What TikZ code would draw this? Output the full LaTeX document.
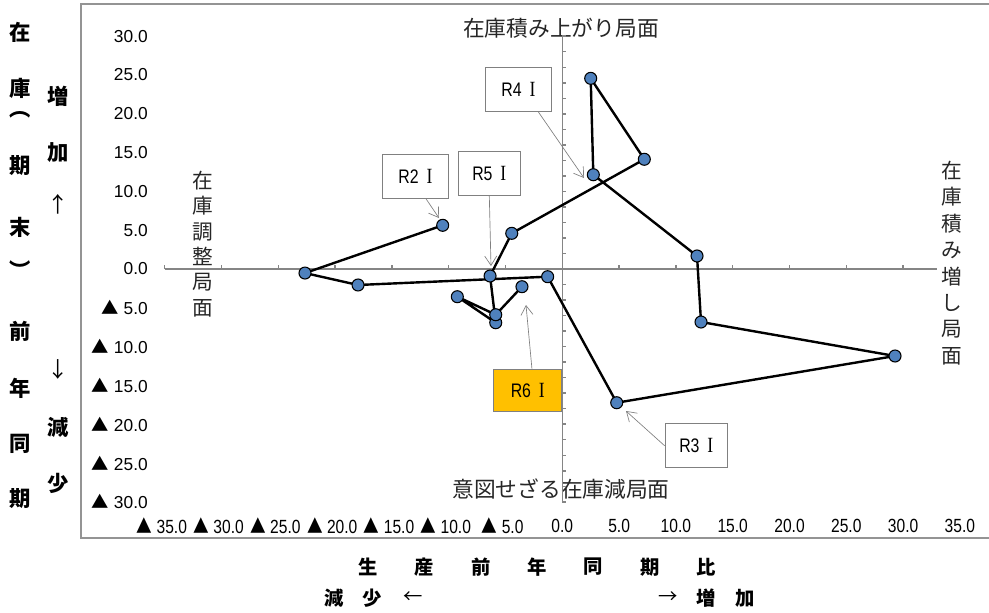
\documentclass[tikz,border=0pt]{standalone}
\usepackage{fontspec}
\setmainfont{Liberation Sans}
\newfontfamily\jp{Noto Sans CJK JP}
\newfontfamily\serifI{Liberation Serif}
\usetikzlibrary{arrows.meta,calc}
\definecolor{markblue}{HTML}{4F81BD}
\definecolor{boxorange}{HTML}{FFC000}
\newcommand{\tri}{{\jp ▲}}
\newcommand{\rn}{\hspace*{7pt}{\serifI\fontsize{15.5}{16}\selectfont I}}
\begin{document}
\begin{tikzpicture}[x=0.75pt,y=-0.75pt,
  frame/.style={draw=black!42, line width=1.2pt},
  axisl/.style={draw=black!48, line width=1.1pt},
  datal/.style={draw=black, line width=1.8pt, line join=round},
  dot/.style={circle, draw=black, line width=0.8pt, fill=markblue, inner sep=0pt, minimum size=9pt},
  callbox/.style={draw=black!50, line width=0.6pt, fill=white, minimum width=49pt, minimum height=33pt, inner sep=0pt, font=\fontsize{14}{16}\selectfont},
  leader/.style={draw=black!50, line width=0.5pt, -{Straight Barb[length=7pt,width=9pt]}},
  phase/.style={font=\jp\fontsize{16.3}{19.8}\selectfont, text=black!85, inner sep=0pt, align=center},
  title/.style={font=\jp\bfseries\fontsize{16}{18}\selectfont, inner sep=0pt},
  btitle/.style={font=\jp\bfseries\fontsize{14.5}{16}\selectfont, inner sep=0pt},
  ylab/.style={font=\fontsize{13}{15}\selectfont, anchor=east, inner sep=0pt},
  xlab/.style={font=\fontsize{13}{15}\selectfont, inner sep=0pt},
]
\useasboundingbox (0,0) rectangle (989,612);
\fill[white] (0,0) rectangle (989,612);
% plot frame
\draw[frame] (989,4) -- (81,4) -- (81,538) -- (989,538);

% phase labels
\node[phase] (ptop) at (561,28) {在庫積み上がり局面};
\node[phase] (pbot) at (561,489) {意図せざる在庫減局面};
\node[phase, font=\jp\fontsize{15.5}{19}\selectfont] (pleft) at (203,244) {在\\庫\\調\\整\\局\\面};
\node[phase, font=\jp\fontsize{15.5}{19.8}\selectfont] (pright) at (952,263) {在\\庫\\積\\み\\増\\し\\局\\面};

% axis titles (left)
\node[title] (l1) at (20,32) {在};
\node[title] (l2) at (20,88) {庫};
\node[title] (l3) at (20,115) {︵};
\node[title] (l4) at (20,166) {期};
\node[title] (l5) at (20,227) {末};
\node[title] (l6) at (20,270) {︶};
\node[title] (l7) at (20,331) {前};
\node[title] (l8) at (20,388) {年};
\node[title] (l9) at (20,444) {同};
\node[title] (l10) at (20,499) {期};
\node[title] (m1) at (58,96) {増};
\node[title] (m2) at (58,153) {加};
\node[title, font=\jp\fontsize{16}{18}\selectfont] (m3) at (58,204) {↑};
\node[title, font=\jp\fontsize{16}{18}\selectfont] (m4) at (58,369) {↓};
\node[title] (m5) at (58,427) {減};
\node[title] (m6) at (58,483) {少};

% axis titles (bottom)
\node[btitle] (b1) at (368,567) {生};
\node[btitle] (b2) at (424,567) {産};
\node[btitle] (b3) at (481,567) {前};
\node[btitle] (b4) at (537,567) {年};
\node[btitle] (b5) at (593,567) {同};
\node[btitle] (b6) at (650,567) {期};
\node[btitle] (b7) at (706,567) {比};
\node[btitle] (c1) at (334,598) {減};
\node[btitle] (c2) at (372,598) {少};
\node[btitle, font=\jp\fontsize{14.5}{16}\selectfont] (c3) at (413,598) {←};
\node[btitle, font=\jp\fontsize{14.5}{16}\selectfont] (c4) at (668,598) {→};
\node[btitle] (c5) at (706,598) {増};
\node[btitle] (c6) at (745,598) {加};

\begin{scope}[shift={(562.3,269)}, x=8.52pt, y=5.82pt]
  % axes
  \draw[axisl] (-35,0) -- (33,0);
  \draw[axisl] (0,-30) -- (0,30);
  \foreach \v in {-35,-30,...,30} \draw[axisl] (\v,0) -- ++(0pt,3pt);
  \foreach \v in {-30,-28,...,30} \draw[axisl] (0,\v) -- ++(3pt,0pt);
  % y labels
  \foreach \v in {0,5,...,30} \node[ylab] at (-36.47,\v) {\v.0};
  \foreach \v in {5,10,...,30} \node[ylab] at (-36.47,-\v) {\tri\ \v.0};
  % x labels
  \foreach \v in {0,5,...,35} \node[xlab] at (\v,-33.1) {\scalebox{0.9}[1.1]{\v.0}};
  \foreach \v in {5,10,...,35} \node[xlab] at (-\v-0.25,-33.1) {\scalebox{0.9}[1.1]{\tri\ \v.0}};

  % data
  \coordinate (q1) at (-10.53,5.63);
  \coordinate (q2) at (-22.65,-0.52);
  \coordinate (q3) at (-17.98,-2.06);
  \coordinate (q4) at (-1.29,-0.99);
  \coordinate (q5) at (4.79,-17.23);
  \coordinate (q6) at (29.29,-11.21);
  \coordinate (q7) at (12.21,-6.83);
  \coordinate (q8) at (11.86,1.68);
  \coordinate (q9) at (2.73,12.15);
  \coordinate (q10) at (2.50,24.57);
  \coordinate (q11) at (7.22,14.14);
  \coordinate (q12) at (-4.45,4.60);
  \coordinate (q13) at (-6.36,-0.90);
  \coordinate (q14) at (-5.86,-6.92);
  \coordinate (q15) at (-9.24,-3.57);
  \coordinate (q16) at (-5.86,-5.89);
  \coordinate (q17) at (-3.55,-2.28);
  \draw[datal] (q1) -- (q2) -- (q3) -- (q4) -- (q5) -- (q6) -- (q7) -- (q8) -- (q9)
    -- (q10) -- (q11) -- (q12) -- (q13) -- (q14) -- (q15) -- (q16) -- (q17);
  \foreach \i in {1,...,17} \node[dot] (p\i) at (q\i) {};
\end{scope}

% callouts
\node[callbox] (r2) at (415.5,176.5) {\scalebox{0.85}[1.05]{R2\rn}};
\node[callbox, minimum width=47pt] (r5) at (489.3,173.5) {\scalebox{0.85}[1.05]{R5\rn}};
\node[callbox] (r4) at (518.5,89.5) {\scalebox{0.85}[1.05]{R4\rn}};
\node[callbox, minimum width=47pt] (r3) at (696.3,445.7) {\scalebox{0.85}[1.05]{R3\rn}};
\node[callbox, fill=boxorange, minimum width=51pt, minimum height=31.5pt] (r6) at (527.8,390) {\scalebox{0.85}[1.05]{R6\rn}};

\coordinate (t2) at (439,218);
\coordinate (t5) at (491,266);
\coordinate (t4) at (584,178);
\coordinate (t3) at (626,411);
\coordinate (t6) at (526,305);
\draw[leader] ($(r2.south west)!0.66!(r2.south east)$) -- (t2);
\draw[leader] (r5.south) -- (t5);
\draw[leader] ($(r4.south west)!0.8!(r4.south east)$) -- (t4);
\draw[leader] (r3.west) -- (t3);
\draw[leader] ($(r6.north west)!0.56!(r6.north east)$) -- (t6);
\end{tikzpicture}
\end{document}
